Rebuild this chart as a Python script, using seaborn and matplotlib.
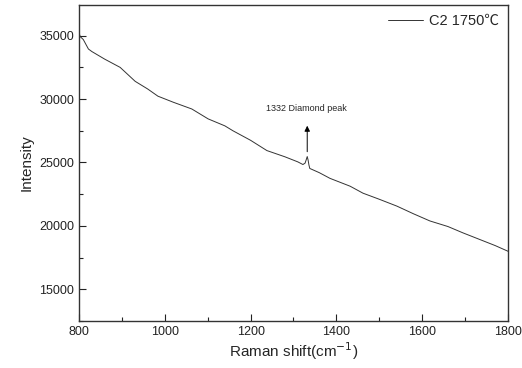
import pandas as pd
import matplotlib
matplotlib.use("Agg")
import matplotlib.pyplot as plt
import seaborn as sns

# Raman spectrum, values
raman_shift = [800, 803, 810, 822, 830, 860, 896, 931, 960, 984, 1020, 1063, 1082,
               1101, 1140, 1159, 1200, 1238, 1280, 1310, 1322, 1327, 1330, 1332,
               1334, 1336, 1338, 1360, 1385, 1432, 1462, 1500, 1541, 1580, 1618,
               1660, 1695, 1740, 1770, 1800]
intensity = [35230, 34920, 34700, 33950, 33750, 33150, 32500, 31400, 30800, 30230,
             29750, 29220, 28830, 28440, 27890, 27500, 26750, 25940, 25450, 25050,
             24840, 24950, 25250, 25470, 25200, 24800, 24530, 24200, 23750, 23130,
             22580, 22100, 21560, 20950, 20390, 19950, 19450, 18850, 18450, 18000]
series_label = "C2 1750\u2103"
peak_text = "1332 Diamond peak"

df = pd.DataFrame({"shift": raman_shift, "intensity": intensity})

sns.set_style("white")
plt.rcParams["font.family"] = ["Liberation Sans", "Noto Sans CJK SC", "DejaVu Sans"]

fig = plt.figure(figsize=(5.22, 3.68), dpi=100)
ax = fig.add_axes([0.1513, 0.1277, 0.8219, 0.8587])

sns.lineplot(data=df, x="shift", y="intensity", ax=ax, color="#333333",
             linewidth=0.7, label=series_label)

ax.set_xlim(800, 1800)
ax.set_ylim(12650, 37420)
ax.set_xticks(range(800, 1801, 200))
ax.set_xticks(range(900, 1800, 200), minor=True)
ax.set_yticks(range(15000, 35001, 5000))
ax.set_yticks(range(12500, 37500, 5000), minor=True)
ax.tick_params(which="major", direction="in", length=5, width=0.8, labelsize=9,
               left=True, bottom=True, colors="#222222")
ax.tick_params(which="minor", direction="in", length=3, width=0.8,
               left=True, bottom=True, colors="#222222")
for sp in ax.spines.values():
    sp.set_color("#333333")
    sp.set_linewidth(1.0)

ax.set_xlabel("Raman shift(cm$^{-1}$)", fontsize=11, labelpad=2)
ax.set_ylabel("Intensity", fontsize=11, labelpad=4)

# arrow points up from the peak to the label
ax.annotate("", xy=(1332, 27900), xytext=(1332, 25850),
            arrowprops=dict(arrowstyle="-|>", color="black", lw=0.7,
                            mutation_scale=8, shrinkA=0, shrinkB=0))
ax.text(1330, 28900, peak_text, ha="center", va="bottom", fontsize=6.5)

leg = ax.legend(loc="upper right", frameon=False, fontsize=10.5,
                handlelength=2.4, handletextpad=0.4, borderaxespad=0.2)

fig.savefig("out.png", dpi=100)
